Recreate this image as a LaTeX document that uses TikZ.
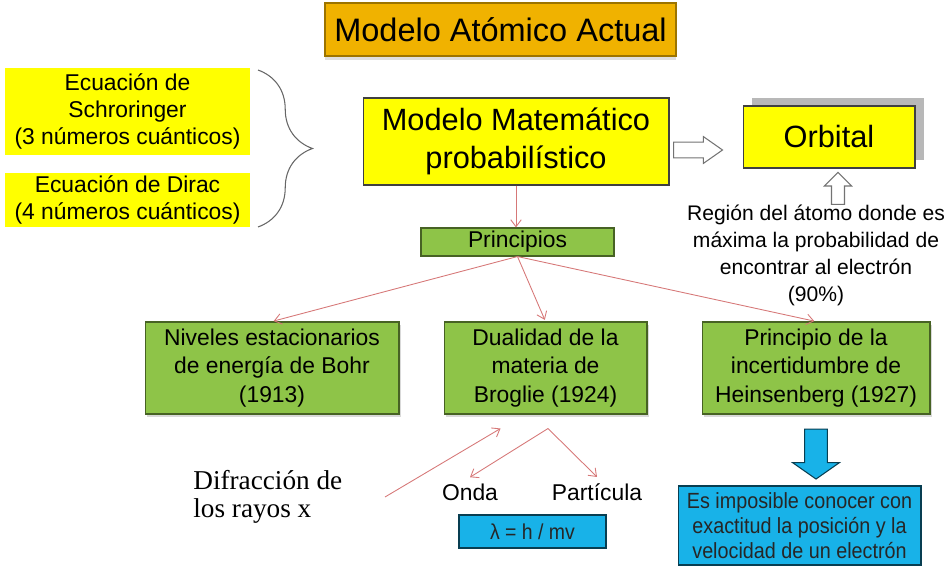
\documentclass[tikz,border=0pt]{standalone}
\usepackage{fontspec}
\setmainfont{Liberation Sans}
\newfontfamily\romanx{Liberation Serif}
\newfontfamily\narrowx[FakeStretch=0.9]{Liberation Sans}
\usetikzlibrary{positioning,arrows.meta,shapes.arrows,shadows,decorations.pathreplacing}

\definecolor{amarillo}{RGB}{255,255,0}
\definecolor{naranja}{RGB}{240,178,0}
\definecolor{verde}{RGB}{142,196,72}
\definecolor{celeste}{RGB}{24,178,232}
\definecolor{rojizo}{RGB}{214,120,120}

\begin{document}
\begin{tikzpicture}[x=0.02cm, y=-0.02cm,
    caja/.style={inner sep=0pt, align=center, line width=0.6pt},
    amar/.style={caja, fill=amarillo, draw=black!75},
    resal/.style={caja, fill=amarillo, font={\fontsize{13pt}{15.6pt}\selectfont}},
    verd/.style={caja, fill=verde, draw=verde!50!black, minimum height=1.84cm,
                 font={\fontsize{13pt}{16pt}\selectfont},
                 drop shadow={shadow xshift=1pt, shadow yshift=-1.5pt, opacity=0.3}},
    cel/.style={caja, fill=celeste, draw=celeste!35!black, text=black!85},
    flecha/.style={draw=rojizo, line width=0.5pt, -{Straight Barb[length=4pt,width=6pt]}},
    hueca/.style={single arrow, draw=black!55, fill=white, line width=0.6pt,
                  inner xsep=0pt, single arrow head indent=0pt}]
  \useasboundingbox (0,0) rectangle (949,567);
  \node[caja, fill=naranja, draw=naranja!65!black, line width=1pt, minimum width=7.02cm,
        minimum height=1.06cm, font={\fontsize{18.5pt}{22pt}\selectfont},
        drop shadow={shadow xshift=0pt, shadow yshift=-2pt, opacity=0.25}] (titulo) at (500.5,29.5) {Modelo Atómico Actual};
  % ecuaciones
  \node[resal, minimum width=4.9cm, minimum height=1.74cm] (schro) at (127.5,111.5) {Ecuación de\\Schroringer\\(3 números cuánticos)};
  \node[resal, minimum width=4.9cm, minimum height=1.08cm] (dirac) at (127.5,200) {Ecuación de Dirac\\(4 números cuánticos)};
  \draw[black!60, line width=0.6pt, decorate, decoration={brace, amplitude=31pt}] (258,70) -- (258,227);
  \node[amar, minimum width=6.12cm, minimum height=1.74cm,
        font={\fontsize{17.5pt}{21.5pt}\selectfont}] (mate) at (516,141.5) {Modelo Matemático\\probabilístico};
  \node[hueca, anchor=tail, minimum height=0.98cm, inner ysep=4.2pt, single arrow head extend=0.11cm,
        single arrow tip angle=70] (fder) at (673,150) {};
  \node[amar, minimum width=3.44cm, minimum height=1.24cm, font={\fontsize{17.5pt}{21pt}\selectfont},
        drop shadow={shadow xshift=0.18cm, shadow yshift=0.16cm, fill=black!28, opacity=1}] (orbital) at (829,137) {Orbital};
  \node[hueca, anchor=tail, rotate=90, minimum height=0.64cm, inner ysep=3.4pt,
        single arrow head extend=0.14cm] (fsub) at (838,205) {};
  \node[anchor=north, align=center, inner sep=0pt, font={\fontsize{12pt}{15.3pt}\selectfont}] (region) at (816,205)
       {Región del átomo donde es\\máxima la probabilidad de\\encontrar al electrón\\(90\%)};
  % principios
  \node[caja, fill=verde, draw=verde!50!black, minimum width=3.86cm, minimum height=0.56cm,
        font={\fontsize{13pt}{15pt}\selectfont}] (prin) at (517.5,242) {Principios};
  \node[verd, minimum width=5.08cm] (bohr) at (272,368) {Niveles estacionarios\\de energía de Bohr\\(1913)};
  \node[verd, minimum width=4.06cm] (broglie) at (545.5,368) {Dualidad de la\\materia de\\Broglie (1924)};
  \node[verd, minimum width=4.56cm] (heisen) at (816,368) {Principio de la\\incertidumbre de\\Heinsenberg (1927)};
  \draw[flecha] (mate.south) -- (mate.south |- prin.north);
  \foreach \dest in {bohr, broglie, heisen}
    \draw[flecha, shorten >=1pt] (prin.south) -- (\dest.north);
  % de Broglie
  \node[anchor=west, align=left, inner sep=0pt, font={\romanx\fontsize{15.5pt}{16pt}\selectfont}] (difrac) at (193,497)
       {Difracción de\\los rayos x};
  \coordinate (difx) at (385,497);
  \coordinate (bent) at ([xshift=-0.9cm, yshift=-0.28cm]broglie.south);
  \coordinate (bsal) at ([xshift=0.05cm, yshift=-0.28cm]broglie.south);
  \draw[flecha] (difx) -- (bent);
  \node[anchor=base, font={\fontsize{13pt}{15pt}\selectfont}] (onda) at (470,500) {Onda};
  \node[anchor=base, font={\fontsize{13pt}{15pt}\selectfont}] (particula) at (597,500) {Partícula};
  \draw[flecha] (bsal) -- (onda.north);
  \draw[flecha] (bsal) -- (particula.north);
  \node[cel, minimum width=2.94cm, minimum height=0.66cm, font={\narrowx\fontsize{12.3pt}{14pt}\selectfont}] (lambda) at (532.5,531.5) {λ = h / mv};
  % Heisenberg
  \node[single arrow, rotate=-90, anchor=tail, fill=celeste, draw=celeste!35!black, line width=0.6pt,
        minimum height=1cm, inner xsep=0pt, inner ysep=6.2pt, single arrow head extend=0.24cm,
        single arrow tip angle=110, single arrow head indent=0pt] (fbaja) at ([yshift=-0.28cm]heisen.south) {};
  \node[cel, minimum width=4.86cm, minimum height=1.58cm, font={\narrowx\fontsize{12.5pt}{14.2pt}\selectfont}] (imposible) at (799.5,525.5)
       {Es imposible conocer con\\exactitud la posición y la\\velocidad de un electrón};
\end{tikzpicture}
\end{document}
